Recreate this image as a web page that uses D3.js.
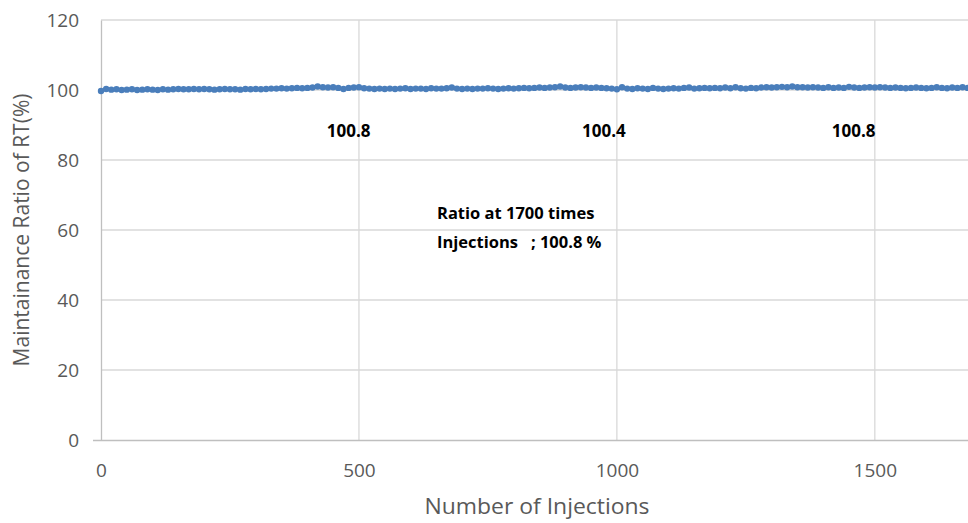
<!DOCTYPE html>
<html><head><meta charset="utf-8">
<script src="https://cdn.jsdelivr.net/npm/d3@7"></script>
<style>
html,body{margin:0;padding:0;background:#fff;overflow:hidden}
text{font-family:"Open Sans",Lato,sans-serif}
</style></head>
<body><svg id="c" width="968" height="523"></svg>
<script>
const injectionStep = 10;
const ratioValues = [
 99.7,100.3,100.1,100.2,100.0,100.1,100.2,100.0,100.1,100.2,100.1,100.0,100.2,100.1,100.2,100.3,100.2,
 100.2,100.3,100.2,100.3,100.2,100.1,100.2,100.3,100.2,100.2,100.1,100.3,100.2,100.3,100.2,100.3,100.4,
 100.4,100.5,100.4,100.5,100.6,100.5,100.6,100.7,101.0,100.8,100.7,100.8,100.6,100.3,100.6,100.7,100.8,
 100.5,100.4,100.3,100.4,100.3,100.4,100.3,100.4,100.5,100.3,100.4,100.4,100.3,100.5,100.4,100.4,100.5,
 100.7,100.4,100.3,100.4,100.3,100.4,100.4,100.5,100.4,100.3,100.4,100.5,100.4,100.5,100.6,100.5,100.6,
 100.7,100.6,100.7,100.8,101.0,100.7,100.6,100.7,100.8,100.7,100.6,100.7,100.6,100.5,100.4,100.2,100.8,
 100.4,100.3,100.5,100.4,100.3,100.6,100.4,100.3,100.4,100.5,100.4,100.6,100.7,100.4,100.5,100.6,100.5,
 100.6,100.5,100.7,100.5,100.8,100.5,100.4,100.6,100.5,100.7,100.8,100.7,100.8,100.9,100.8,101.0,100.8,
 100.8,100.7,100.8,100.7,100.6,100.8,100.6,100.7,100.6,100.9,100.7,100.6,100.7,100.8,100.7,100.8,100.7,
 100.6,100.7,100.6,100.5,100.6,100.7,100.6,100.5,100.6,100.8,100.6,100.5,100.7,100.6,100.8,100.6,100.7,100.8
];
const xTicks = [0, 500, 1000, 1500];
const yTicks = [0, 20, 40, 60, 80, 100, 120];
const labelX = [480, 975, 1459];
const labelText = ["100.8", "100.4", "100.8"];
const noteLines = ["Ratio at 1700 times", "Injections   ; 100.8 %"];

const svg = d3.select("#c");
const x = d3.scaleLinear().domain([0, 1700]).range([101, 978]);
const y = d3.scaleLinear().domain([0, 120]).range([440, 20]);
const grid = "#d9d9d9", txt = "#595959";

svg.append("g").selectAll("line").data(yTicks.filter(d => d > 0)).join("line")
  .attr("x1", x(0)).attr("x2", 968).attr("y1", d => y(d)).attr("y2", d => y(d))
  .attr("stroke", grid).attr("stroke-width", 1.3);
svg.append("g").selectAll("line").data(xTicks.filter(d => d > 0)).join("line")
  .attr("x1", d => x(d)).attr("x2", d => x(d)).attr("y1", y(120)).attr("y2", y(0))
  .attr("stroke", grid).attr("stroke-width", 1.3);

const yAxis = svg.append("g").attr("transform", `translate(${x(0)},0)`)
  .call(d3.axisLeft(y).tickValues(yTicks).tickSize(0).tickPadding(22).tickFormat(d3.format("d")));
yAxis.select(".domain").attr("stroke", "#bfbfbf").attr("stroke-width", 1.3);
yAxis.selectAll("text").attr("fill", txt).attr("font-size", 19);

const xAxis = svg.append("g").attr("transform", `translate(0,${y(0)})`)
  .call(d3.axisBottom(x).tickValues(xTicks).tickSize(0).tickPadding(24).tickFormat(d3.format("d")));
xAxis.select(".domain").attr("stroke", "#bfbfbf").attr("stroke-width", 1.3)
  .attr("d", `M${x(0)-8},0.5H968`);
xAxis.selectAll("text").attr("fill", txt).attr("font-size", 19);

svg.append("text").attr("x", 537).attr("y", 514).attr("text-anchor", "middle")
  .attr("fill", txt).attr("font-size", 21).attr("textLength", 225).attr("lengthAdjust", "spacingAndGlyphs")
  .text("Number of Injections");
svg.append("text").attr("transform", "translate(29,230) rotate(-90)").attr("text-anchor", "middle")
  .attr("fill", txt).attr("font-size", 21).text("Maintainance Ratio of RT(%)");

const pts = ratioValues.map((v, i) => [i * injectionStep, v]);
svg.append("path").datum(pts)
  .attr("fill", "none").attr("stroke", "#4a7ebb").attr("stroke-width", 3)
  .attr("d", d3.line().x(d => x(d[0])).y(d => y(d[1])));
svg.append("g").selectAll("circle").data(pts).join("circle")
  .attr("cx", d => x(d[0])).attr("cy", d => y(d[1])).attr("r", 3.2)
  .attr("fill", "#4a7ebb");

svg.append("g").selectAll("text").data(labelX).join("text")
  .attr("x", d => x(d)).attr("y", 137).attr("text-anchor", "middle")
  .attr("font-size", 17).attr("font-weight", "bold").attr("fill", "#000")
  .text((d, i) => labelText[i]);
svg.append("g").selectAll("text").data(noteLines).join("text")
  .attr("x", 437).attr("y", (d, i) => 219 + i * 29)
  .attr("font-size", 16.5).attr("font-weight", "bold").attr("fill", "#000")
  .attr("xml:space", "preserve").style("white-space", "pre")
  .text(d => d);
</script></body></html>
